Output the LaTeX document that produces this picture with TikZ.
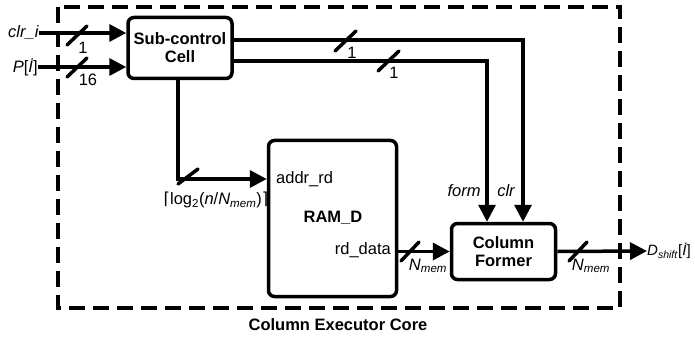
\documentclass[tikz,border=0pt]{standalone}
\usepackage{fontspec}
\setmainfont{Liberation Sans}
\newfontfamily\symfam{DejaVu Sans}
\usetikzlibrary{arrows.meta}

\newcommand{\lowsub}[1]{\textsubscript{\textit{#1}}}

\tikzset{
	blk/.style={draw, line width=3.5pt, rounded corners=6pt, inner sep=0pt, align=center,
		font=\bfseries\fontsize{16.5}{18}\selectfont},
	sig/.style={line width=3.5pt, -{Triangle[length=17pt,width=17pt]}},
	slash/.style={line width=3.5pt, line cap=round},
	lbl/.style={inner sep=0pt, font=\fontsize{16.5}{18}\selectfont},
}

\begin{document}
\begin{tikzpicture}[x=1pt,y=-1pt]
	\useasboundingbox (0,0) rectangle (695,339);
	% core border
	\draw[line width=4pt, dash pattern=on 16pt off 8pt] (58,7) rectangle (620,308);
	\node[lbl, font=\bfseries\fontsize{16.5}{18}\selectfont] (core) at (338,325) {Column Executor Core};
	% blocks
	\node[blk, minimum width=104pt, minimum height=61pt] (sub) at (180,48) {Sub-control\\Cell};
	\node[blk, minimum width=128pt, minimum height=156pt] (ram) at (332.5,218.5) {};
	\node[lbl, font=\bfseries\fontsize{16.5}{18}\selectfont] (ramname) at (333,218) {RAM\_D};
	\node[lbl, anchor=west] (addr) at (276,179) {addr\_rd};
	\node[lbl, anchor=east] (rddata) at (391,250) {rd\_data};
	\node[blk, minimum width=104pt, minimum height=56pt] (former) at (503.5,251.5) {Column\\Former};
	% inputs
	\node[lbl, anchor=east] (clrin) at (39,33) {\textit{clr\_i}};
	\node[lbl, anchor=east] (pin) at (38,67) {\textit{P}[\textit{İ}]};
	\draw[sig] (clrin.east) -- (clrin.east -| sub.west);
	\draw[sig] (pin.east) -- (pin.east -| sub.west);
	\draw[slash] (67,45) -- (87,26);
	\draw[slash] (67,77) -- (87,58);
	\node[lbl] (w1) at (83,48) {1};
	\node[lbl] (w16) at (88,80) {16};
	% control lines to the former
	\coordinate (clrturn) at (523,40);
	\coordinate (formturn) at (487,61);
	\draw[sig] (sub.east |- clrturn) -- (clrturn) -- (clrturn |- former.north);
	\draw[sig] (sub.east |- formturn) -- (formturn) -- (formturn |- former.north);
	\draw[slash] (335,51) -- (356,31);
	\draw[slash] (378,71) -- (399,51);
	\node[lbl] (wclr) at (352,53) {1};
	\node[lbl] (wform) at (394,73) {1};
	\node[lbl, font=\itshape\fontsize{16.5}{18}\selectfont] (formlbl) at (464,191) {form};
	\node[lbl, font=\itshape\fontsize{16.5}{18}\selectfont] (clrlbl) at (506,191) {clr};
	% address
	\coordinate (addrturn) at (178,179);
	\draw[sig] (sub.south -| addrturn) -- (addrturn) -- (addrturn -| ram.west);
	\draw[slash] (178,184) -- (198,169);
	\node[lbl] (addrw) at (216,200) {{\symfam ⌈}log\textsubscript{2}(\textit{n}/\textit{N}\lowsub{mem}){\symfam ⌉}};
	% data path
	\draw[sig] (ram.east |- former.west) -- (former.west);
	\draw[slash] (401,261) -- (419,242);
	\node[lbl] (dataw) at (428,266) {\textit{N}\lowsub{mem}};
	\node[lbl, anchor=west, font=\fontsize{15}{17}\selectfont] (dout) at (647,251) {\textit{D}\lowsub{shift}[\textit{İ}]};
	\draw[sig] (former.east) -- (dout.west);
	\draw[slash] (569,261) -- (587,242);
	\node[lbl] (outw) at (591,266) {\textit{N}\lowsub{mem}};
\end{tikzpicture}
\end{document}
